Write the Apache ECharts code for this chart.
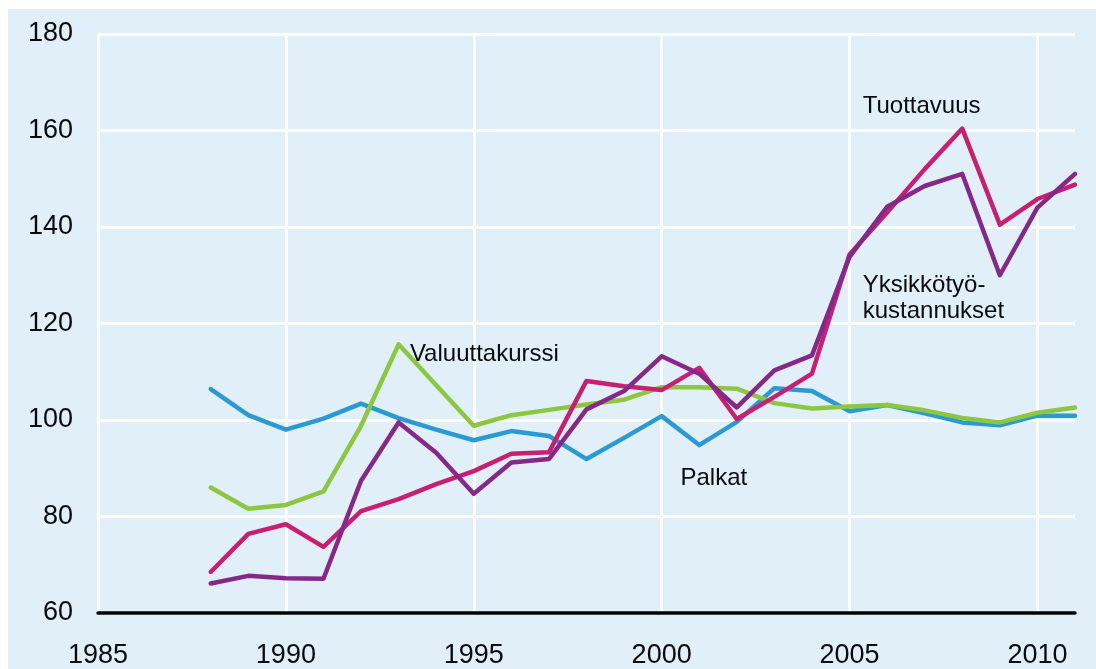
<!DOCTYPE html>
<html>
<head>
<meta charset="utf-8">
<script src="https://cdn.jsdelivr.net/npm/echarts@6/dist/echarts.min.js"></script>
<style>
	html, body { margin: 0; padding: 0; background: #ffffff; }
	#chart { position: absolute; left: 8px; top: 9px; width: 1088px; height: 660px; }
</style>
</head>
<body>
<div id="chart"></div>
<script>
// vuodet ja indeksit
var years = [ 1988, 1989, 1990, 1991, 1992, 1993, 1994, 1995, 1996, 1997, 1998, 1999,
		2000, 2001, 2002, 2003, 2004, 2005, 2006, 2007, 2008, 2009, 2010, 2011 ];

var palkat = [ 106.4, 101, 98, 100.3, 103.4, 100.4, 98, 95.8, 97.7, 96.7, 91.9, 96.3,
		100.8, 94.8, 99.6, 106.6, 106, 101.8, 103.1, 101.4, 99.5, 98.9, 100.9, 100.9 ];
var valuuttakurssi = [ 86, 81.6, 82.4, 85.2, 98.8, 115.7, 107.2, 98.8, 101, 102.1, 103.2, 104.2,
		106.8, 106.8, 106.5, 103.5, 102.4, 102.8, 103.1, 102, 100.4, 99.5, 101.5, 102.6 ];
var tuottavuus = [ 68.5, 76.4, 78.4, 73.7, 81.1, 83.6, 86.7, 89.4, 93, 93.3, 108.1, 107,
		106.2, 110.8, 100.2, 104.8, 109.6, 134.3, 143, 152, 160.4, 140.5, 145.8, 148.8 ];
var yksikkotyokustannukset = [ 66.1, 67.7, 67.2, 67.1, 87.4, 99.5, 93.2, 84.7, 91.2, 91.9, 102.2, 106,
		113.2, 109.6, 102.6, 110.3, 113.4, 133.8, 144.2, 148.5, 151, 130, 144, 151 ];

var yTicks = [ 60, 80, 100, 120, 140, 160, 180 ];
var xTicks = [ 1985, 1990, 1995, 2000, 2005, 2010 ];

function pairs(vals) {
	return years.map(function(y, i) {
		return [ y, vals[i] ];
	});
}

var font = 'Liberation Sans, Arial, sans-serif';

function note(text, x, y) {
	return {
		symbol : 'circle',
		symbolSize : 0,
		silent : true,
		data : [ {
			coord : [ x, y ],
			label : {
				show : true,
				position : 'right',
				distance : 0,
				formatter : text,
				color : '#0a0a0a',
				fontFamily : font,
				fontSize : 24,
				lineHeight : 26,
				align : 'left',
				verticalAlign : 'middle'
			}
		} ]
	};
}

function line(name, vals, color, mark) {
	return {
		name : name,
		type : 'line',
		data : pairs(vals),
		symbol : 'none',
		lineStyle : { color : color, width : 4.5, cap : 'round', join : 'round' },
		markPoint : mark
	};
}

var myChart = echarts.init(document.getElementById('chart'));

var option = {
	backgroundColor : '#e1eff9',
	animation : false,
	grid : {
		left : 90,
		right : 21,
		top : 25,
		bottom : 56,
		containLabel : false,
		outerBoundsMode : 'none'
	},
	xAxis : {
		type : 'value',
		min : xTicks[0],
		max : 2011,
		interval : 5,
		axisLine : {
			show : true,
			onZero : false,
			lineStyle : { color : '#000000', width : 3.5 }
		},
		axisTick : { show : false },
		axisLabel : {
			color : '#0a0a0a',
			fontFamily : font,
			fontSize : 27,
			margin : 29,
			showMaxLabel : false,
			formatter : function(v) {
				return String(v);
			}
		},
		splitLine : {
			show : true,
			showMaxLine : false,
			lineStyle : { color : '#ffffff', width : 3 }
		}
	},
	yAxis : {
		type : 'value',
		min : yTicks[0],
		max : yTicks[yTicks.length - 1],
		interval : 20,
		axisLine : { show : false },
		axisTick : { show : false },
		axisLabel : {
			color : '#0a0a0a',
			fontFamily : font,
			fontSize : 27,
			margin : 25
		},
		splitLine : {
			show : true,
			lineStyle : { color : '#ffffff', width : 3 }
		}
	},
	series : [
			line('Palkat', palkat, '#2a9ad5', note('Palkat', 2000.5, 88)),
			line('Valuuttakurssi', valuuttakurssi, '#8dc63f', note('Valuuttakurssi', 1993.3, 113.5)),
			line('Tuottavuus', tuottavuus, '#c91f70', note('Tuottavuus', 2005.35, 164.9)),
			line('Yksikkötyökustannukset', yksikkotyokustannukset, '#86278a',
					note('Yksikkötyö-\nkustannukset', 2005.35, 125.3)) ]
};

myChart.setOption(option);
</script>
</body>
</html>
